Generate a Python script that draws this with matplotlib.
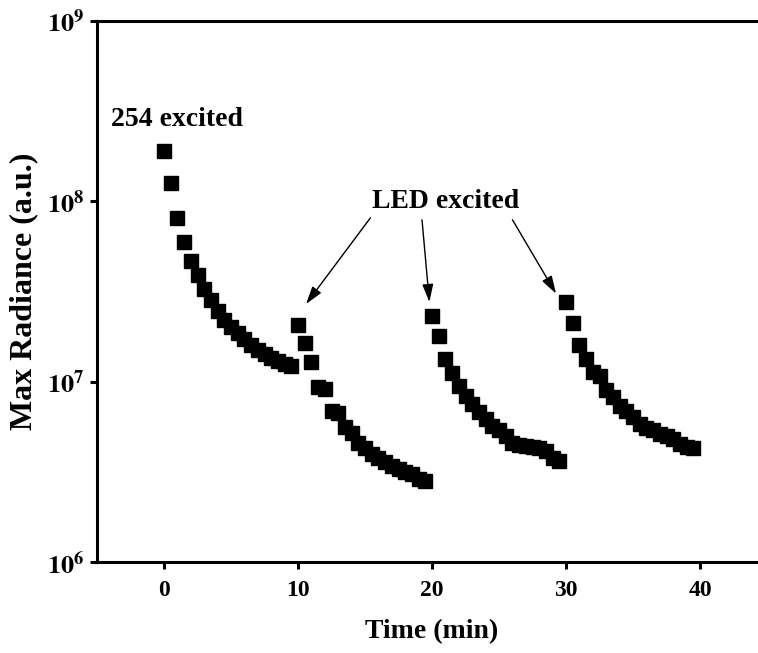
import matplotlib
matplotlib.use("Agg")
import matplotlib.pyplot as plt

plt.rcParams['font.family'] = ['Liberation Serif', 'DejaVu Serif']
plt.rcParams['font.weight'] = 'bold'
plt.rcParams['mathtext.fontset'] = 'stix'

# time (min) and max radiance
time_254 = [0, 0.5, 1, 1.5, 2, 2.5, 3, 3.5, 4, 4.5, 5, 5.5, 6, 6.5, 7, 7.5, 8, 8.5, 9, 9.5]
rad_254 = [1.91e8, 1.26e8, 8.07e7, 5.94e7, 4.70e7, 3.92e7, 3.26e7, 2.85e7, 2.47e7, 2.20e7,
           2.01e7, 1.86e7, 1.73e7, 1.60e7, 1.50e7, 1.43e7, 1.35e7, 1.30e7, 1.25e7, 1.22e7]

time_led1 = [10, 10.5, 11, 11.5, 12, 12.5, 13, 13.5, 14, 14.5, 15, 15.5, 16, 16.5, 17, 17.5, 18, 18.5, 19, 19.5]
rad_led1 = [2.07e7, 1.65e7, 1.29e7, 9.35e6, 9.12e6, 6.91e6, 6.70e6, 5.65e6, 5.2e6, 4.6e6,
            4.3e6, 4.0e6, 3.8e6, 3.6e6, 3.4e6, 3.3e6, 3.15e6, 3.1e6, 2.9e6, 2.83e6]

time_led2 = [20, 20.5, 21, 21.5, 22, 22.5, 23, 23.5, 24, 24.5, 25, 25.5, 26, 26.5, 27, 27.5, 28, 28.5, 29, 29.5]
rad_led2 = [2.32e7, 1.80e7, 1.34e7, 1.12e7, 9.5e6, 8.3e6, 7.5e6, 6.8e6, 6.2e6, 5.7e6,
            5.4e6, 5.0e6, 4.6e6, 4.45e6, 4.4e6, 4.35e6, 4.3e6, 4.15e6, 3.8e6, 3.65e6]

time_led3 = [30, 30.5, 31, 31.5, 32, 32.5, 33, 33.5, 34, 34.5, 35, 35.5, 36, 36.5, 37, 37.5, 38, 38.5, 39, 39.5]
rad_led3 = [2.77e7, 2.12e7, 1.60e7, 1.34e7, 1.13e7, 1.07e7, 9.0e6, 8.2e6, 7.3e6, 6.9e6,
            6.4e6, 5.85e6, 5.56e6, 5.42e6, 5.15e6, 5.02e6, 4.83e6, 4.54e6, 4.37e6, 4.30e6]

x_ticks = [0, 10, 20, 30, 40]
y_ticks = [1e6, 1e7, 1e8, 1e9]
y_ticklabels = [r'$\mathbf{10^{6}}$', r'$\mathbf{10^{7}}$', r'$\mathbf{10^{8}}$', r'$\mathbf{10^{9}}$']

fig = plt.figure(figsize=(7.58, 6.53), dpi=100)
ax = fig.add_axes([0.128, 0.139, 0.884, 0.829])

for t, r in [(time_254, rad_254), (time_led1, rad_led1), (time_led2, rad_led2), (time_led3, rad_led3)]:
    ax.plot(t, r, 's', color='black', markersize=10.5, linestyle='none')

ax.set_yscale('log')
ax.set_xlim(-5, 45)
ax.set_ylim(1e6, 1e9)
ax.set_xticks(x_ticks)
ax.set_xticklabels([str(v) for v in x_ticks])
ax.set_yticks(y_ticks)
ax.set_yticklabels(y_ticklabels)
ax.yaxis.set_minor_locator(matplotlib.ticker.NullLocator())

for s in ax.spines.values():
    s.set_linewidth(2.2)
ax.tick_params(which='major', direction='out', length=5, width=2.2, labelsize=17, pad=6)
ax.tick_params(axis='y', labelsize=19, pad=4)
ax.tick_params(axis='x', pad=8)

ax.set_xlabel('Time (min)', fontsize=20, fontweight='bold', labelpad=13)
ax.set_ylabel('Max Radiance (a.u.)', fontsize=23, fontweight='bold', labelpad=6)

ax.text(1.0, 2.85e8, '254 excited', fontsize=20, fontweight='bold', ha='center', va='center')
ax.text(21.0, 1.0e8, 'LED excited', fontsize=20, fontweight='bold', ha='center', va='center')

arrow = dict(arrowstyle='-|>,head_length=0.9,head_width=0.28', color='black', lw=1.0,
             mutation_scale=12, shrinkA=0, shrinkB=0)
ax.annotate('', xy=(10.6, 2.7e7), xytext=(15.4, 8.1e7), arrowprops=arrow)
ax.annotate('', xy=(19.8, 2.77e7), xytext=(19.25, 7.9e7), arrowprops=arrow)
ax.annotate('', xy=(29.25, 3.08e7), xytext=(26.0, 7.9e7), arrowprops=arrow)

fig.savefig('out.png', dpi=100)
